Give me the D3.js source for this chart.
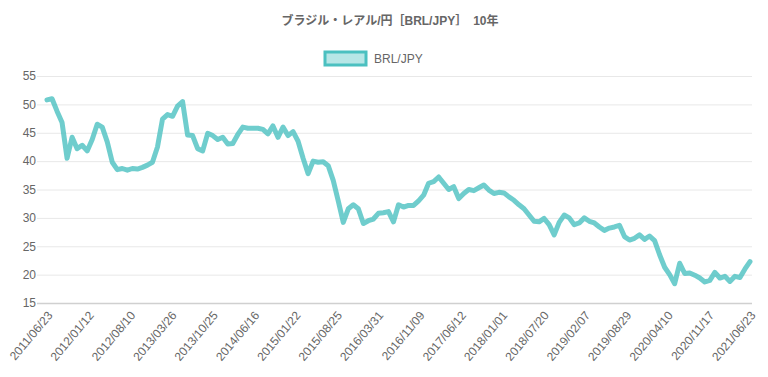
<!DOCTYPE html>
<html>
<head>
<meta charset="utf-8">
<script src="https://cdn.jsdelivr.net/npm/d3@7"></script>
<style>
  body { margin: 0; background: #fff; }
  text { font-family: "Liberation Sans", Arial, "Noto Sans CJK JP", sans-serif; }
</style>
</head>
<body>
<div id="chart"></div>
<script>

var title = "ブラジル・レアル/円［BRL/JPY］　10年";
var seriesName = "BRL/JPY";

// x axis labels (every ~200 days), first and last are the ends of the series
var tickLabels = ["2011/06/23", "2012/01/12", "2012/08/10", "2013/03/26", "2013/10/25",
    "2014/06/16", "2015/01/22", "2015/08/25", "2016/03/31", "2016/11/09", "2017/06/12",
    "2018/01/01", "2018/07/20", "2019/02/07", "2019/08/29", "2020/04/10", "2020/11/17",
    "2021/06/23"];

var yTicks = [15, 20, 25, 30, 35, 40, 45, 50, 55];

// rate at even steps along the axis
var values = [
    50.8, 51.0, 48.8, 46.8, 40.5, 44.2, 42.2, 42.8, 41.8, 43.8,
    46.5, 46.0, 43.4, 39.8, 38.5, 38.7, 38.4, 38.7, 38.6, 38.9,
    39.3, 39.8, 42.5, 47.4, 48.2, 47.9, 49.7, 50.5, 44.6, 44.5,
    42.2, 41.8, 44.9, 44.5, 43.8, 44.2, 43.0, 43.1, 44.7, 46.0,
    45.8, 45.8, 45.8, 45.6, 44.8, 46.2, 44.2, 46.0, 44.5, 45.2,
    43.5, 40.5, 37.8, 40.0, 39.8, 39.9, 39.2, 36.6, 33.0, 29.2,
    31.6, 32.3, 31.6, 29.0, 29.5, 29.8, 30.8, 30.9, 31.1, 29.3,
    32.3, 31.9, 32.2, 32.2, 33.0, 34.0, 36.1, 36.4, 37.2, 36.1,
    35.0, 35.5, 33.4, 34.3, 35.0, 34.8, 35.3, 35.8, 34.9, 34.3,
    34.5, 34.4, 33.7, 33.1, 32.3, 31.6, 30.5, 29.4, 29.3, 29.9,
    28.8, 27.0, 29.2, 30.5, 30.0, 28.8, 29.1, 30.0, 29.4, 29.1,
    28.4, 27.8, 28.2, 28.4, 28.7, 26.7, 26.1, 26.4, 27.0, 26.2,
    26.8, 26.0, 23.5, 21.3, 20.0, 18.4, 22.0, 20.2, 20.3, 19.9,
    19.4, 18.7, 19.0, 20.4, 19.4, 19.7, 18.8, 19.7, 19.5, 21.0,
    22.3
];

var W = 768, H = 377;
var margin = {top: 76, right: 16, bottom: 74, left: 40},
    width = W - margin.left - margin.right,
    height = H - margin.top - margin.bottom;

var teal = "rgb(75,192,192)";

var svg = d3.select("#chart").append("svg")
    .attr("width", W)
    .attr("height", H);

// title
svg.append("text")
    .attr("x", 390)
    .attr("y", 25)
    .attr("text-anchor", "middle")
    .attr("font-size", 12)
    .attr("font-weight", "bold")
    .attr("fill", "#666")
    .text(title);

// legend
var legend = svg.append("g").attr("transform", "translate(325,52)");
legend.append("rect")
    .attr("width", 41)
    .attr("height", 13)
    .attr("fill", "rgba(75,192,192,0.4)")
    .attr("stroke", teal)
    .attr("stroke-width", 3);
legend.append("text")
    .attr("x", 49)
    .attr("y", 11)
    .attr("font-size", 12)
    .attr("fill", "#666")
    .text(seriesName);

var x = d3.scaleLinear().domain([0, values.length - 1]).range([7, width - 2]),
    y = d3.scaleLinear().domain([15, 55]).range([height, 0]);

var g = svg.append("g")
    .attr("transform", "translate(" + margin.left + "," + margin.top + ")");

// horizontal grid + y labels
var yAxis = d3.axisLeft(y).tickValues(yTicks).tickSize(-width).tickPadding(4);
g.append("g")
    .attr("class", "y axis")
    .call(yAxis)
    .call(function(s) {
        s.select(".domain").remove();
        s.selectAll(".tick line")
            .attr("stroke", function(d) { return d === 15 ? "#d0d0d0" : "#e8e8e8"; })
            .attr("stroke-width", function(d) { return d === 15 ? 1.5 : 1; })
            .attr("x1", -3);
        s.selectAll(".tick text")
            .attr("font-size", 12)
            .attr("fill", "#666")
            .attr("font-family", "Liberation Sans, Arial, sans-serif");
    });

// x labels, rotated like the original
var step = (values.length - 1) / (tickLabels.length - 1);
g.append("g")
    .attr("class", "x labels")
    .selectAll("text")
    .data(tickLabels)
    .enter().append("text")
    .attr("transform", function(d, i) {
        return "translate(" + (x(i * step) + 3) + "," + (height + 10) + ") rotate(-50)";
    })
    .attr("text-anchor", "end")
    .attr("dy", "0.35em")
    .attr("font-size", 12)
    .attr("fill", "#666")
    .text(function(d) { return d; });

// the series
var line = d3.line()
    .x(function(d, i) { return x(i); })
    .y(function(d) { return y(d); });

g.append("path")
    .datum(values)
    .attr("fill", "none")
    .attr("stroke", teal)
    .attr("stroke-opacity", 0.8)
    .attr("stroke-width", 5)
    .attr("stroke-linejoin", "round")
    .attr("stroke-linecap", "round")
    .attr("d", line);

</script>
</body>
</html>
